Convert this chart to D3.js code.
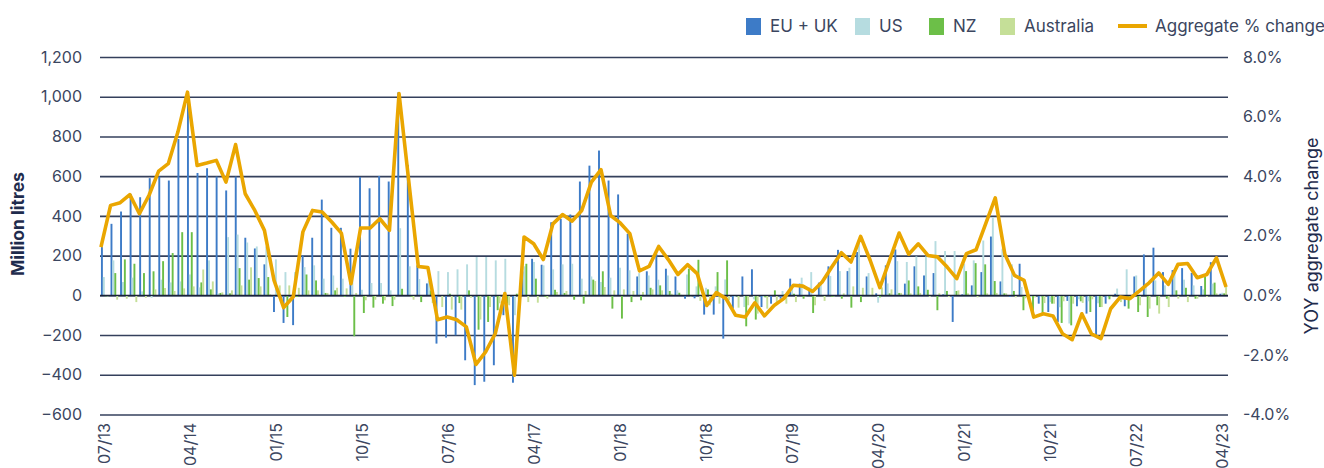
<!DOCTYPE html>
<html>
<head>
<meta charset="utf-8">
<script src="https://cdn.jsdelivr.net/npm/d3@7"></script>
<style>
  body { margin: 0; background: #fff; }
  text { font-family: Inter, "Noto Sans", sans-serif; }
</style>
</head>
<body>
<div id="visualization"></div>
<script>
// monthly categories 07/13 .. 04/23
var months = d3.timeMonth.range(new Date(2013, 6, 1), new Date(2023, 4, 1)).map(d3.timeFormat("%m/%y"));

var tickLabels = ["07/13", "04/14", "01/15", "10/15", "07/16", "04/17", "01/18",
  "10/18", "07/19", "04/20", "01/21", "10/21", "07/22", "04/23"];

var leftTicks = [-600, -400, -200, 0, 200, 400, 600, 800, 1000, 1200];
var rightTicks = [-4, -2, 0, 2, 4, 6, 8];

// million litres, yoy change
var euUk = [243, 360, 422, 511, 494, 590, 598, 578, 787, 971,
  616, 640, 598, 528, 598, 290, 236, 156, -84, -139,
  -150, 201, 290, 482, 340, 340, 235, 596, 539, 601,
  573, 1022, 657, 151, 60, -243, -213, -201, -327, -452,
  -435, -352, -100, -440, 120, 184, 154, 368, 385, 407,
  573, 653, 729, 578, 508, 310, 95, 121, 209, 134,
  95, -17, -15, -97, -97, -218, -67, 95, 131,
  -59, -42, -17, 84, 59, 38, 64, 146, 229, 122,
  218, 95, 10, 151, 231, 59, 146, 100, 112, 5,
  -134, 5, 50, 117, 296, 70, -8, 159, -34, -42,
  -84, -134, -28,
  -55, -92, -201, -42, 8, -55, 95, 206, 240, 117, 127, 137, 113, 47, 167, 8];

var us = [92, 176, 67, 89, 20, -12, 79, 65, 70, 105,
  40, 176, 10, 293, 306, 266, 246, 246, 181, 117,
  117, 142, 151, 84, 100, 84, 90, 28, 62, 62,
  25, 338, 146, 82, 75, 122, 117, 131, 156, 193,
  193, 176, 184, -100, 146, 168, 151, 131, 156, 159,
  84, 95, 67, 89, 139, 126, 112, 100, 79, 100,
  25, 105, 45, 38, 45, 80, -8, -59, -20,
  -8, 0, 22, 40, 89, 117, 60, 97, 122, 139,
  263, 112, -37, 60, 172, 168, 196, 196, 273, 223,
  223, 159, 176, 276, 394, 235, 156, 42, -8, -8,
  -34, -60, -142,
  -20, -30, -40, -10, 34, 131, 100, 60, 75, 50, 131, 79, 50, 30, 59, 13];

var nz = [-5, 112, 181, 159, 112, 121, 172, 213, 318, 318,
  65, 30, 12, 10, 137, 79, 87, 92, 10, -109,
  -8, 105, 75, 12, 25, -8, -206, -89, -62, -42,
  -54, 33, -8, -34, 25, 0, 8, -39, 25, -173,
  -134, -75, -42, 8, 159, 84, -8, 28, 12, -22,
  -42, 79, 121, -67, -117, -34, -25, 38, 50, 22,
  13, 134, 179, 30, 117, 176, -5, -156, -122,
  -10, 25, 5, 8, -17, -89, -5, -8, -17, -62,
  -34, -5, -10, 10, 12, 75, 45, 28, -75, 22,
  22, 122, 162, 156, 72, 10, 22, -75, -92, -89,
  -42, -139, -151,
  -30, -84, -59, -20, -10, -67, -84, -109, -50, -17, 25, 38, -17, 95, 64, 10];

var australia = [-5, -22, -17, -34, -12, 30, 37, 22, 35, 45,
  130, 70, 15, 25, 50, 141, 45, 5, 50, 50,
  38, 25, 25, 12, 38, 35, 12, -25, -22, -25,
  -22, 0, -22, 0, -39, -59, -72, -72, -12, -122,
  -59, -40, -50, -20, -34, -37, -17, 17, 22, 0,
  22, 72, 42, 25, 30, 22, 17, 30, 25, 8,
  3, -5, -28, -50, -42, -25, -62, -50, -92,
  -67, -34, -42, -34, -5, -50, -28, -5, 10, 45,
  38, 38, 40, 30, 12, 10, 12, -8, 10, -8,
  25, 10, -10, 10, 12, 10, -10, -15, -10, -39,
  -42, -30, -42,
  -38, -20, -59, -8, -34, -20, -50, -67, -92, -59, -17, -34, -17, -8, 10, 42];

// aggregate yoy % change
var aggregate = [1.62, 3.02, 3.11, 3.38, 2.74, 3.36, 4.17, 4.42, 5.48, 6.82,
  4.36, 4.44, 4.53, 3.80, 5.06, 3.41, 2.85, 2.18, 0.50, -0.41,
  -0.05, 2.13, 2.85, 2.80, 2.46, 2.09, 0.39, 2.26, 2.26, 2.57,
  2.18, 6.77, 3.86, 0.97, 0.93, -0.82, -0.73, -0.82, -1.06, -2.32,
  -1.90, -1.29, 0.06, -2.68, 1.96, 1.73, 1.20, 2.40, 2.71, 2.49,
  2.85, 3.80, 4.22, 2.68, 2.43, 2.07, 0.82, 0.97, 1.64, 1.20,
  0.70, 1.03, 0.73, -0.34, 0.09, -0.11, -0.67, -0.73, -0.25,
  -0.69, -0.34, -0.11, 0.34, 0.31, 0.13, 0.45, 0.95, 1.43, 1.12,
  1.98, 1.17, 0.26, 1.17, 2.09, 1.38, 1.73, 1.34, 1.29, 0.95,
  0.56, 1.40, 1.53, 2.40, 3.27, 1.38, 0.67, 0.50, -0.73, -0.62,
  -0.69, -1.29, -1.49,
  -0.62, -1.29, -1.45, -0.45, -0.06, -0.11, 0.15, 0.42, 0.75, 0.37, 1.04, 1.07, 0.59, 0.70, 1.26, 0.28];

var seriesNames = ["EU + UK", "US", "NZ", "Australia"];
var seriesValues = [euUk, us, nz, australia];
var colors = ["#3d7bc7", "#b6dce0", "#6cbf48", "#c5df98"];
var lineColor = "#eaa600";
var textColor = "#3b4660";
var navy = "#1f2c4d";

var width = 1324, height = 468;
var plotLeft = 100, plotRight = 1228, plotTop = 57, plotBottom = 414.5;

var svg = d3.select("#visualization")
  .append("svg")
  .attr("width", width)
  .attr("height", height);

var x = d3.scaleBand()
  .domain(months)
  .range([plotLeft, plotRight])
  .paddingInner(0.2)
  .paddingOuter(0.1);

var xSub = d3.scaleBand()
  .domain(seriesNames)
  .range([0, x.bandwidth()]);

// the line runs from the first group to the last bar of the final group
var xLine = d3.scalePoint()
  .domain(months)
  .range([x(months[0]), x(months[months.length - 1]) + x.bandwidth() - 1]);

var yLeft = d3.scaleLinear().domain([-600, 1200]).range([plotBottom, plotTop]);
var yRight = d3.scaleLinear().domain([-4, 8]).range([plotBottom, plotTop]);

// gridlines
svg.append("g")
  .attr("transform", "translate(" + plotLeft + ",0)")
  .call(d3.axisLeft(yLeft).tickValues(leftTicks).tickSize(-(plotRight - plotLeft)).tickFormat(""))
  .call(function (g) { g.select(".domain").remove(); })
  .selectAll("line")
  .attr("stroke", "#34405c")
  .attr("stroke-width", 1.6);

// bars
seriesValues.forEach(function (vals, s) {
  svg.append("g")
    .selectAll("rect")
    .data(vals)
    .enter()
    .append("rect")
    .attr("x", function (d, i) { return x(months[i]) + xSub(seriesNames[s]); })
    .attr("width", xSub.bandwidth())
    .attr("y", function (d) { return yLeft(Math.max(0, d)); })
    .attr("height", function (d) { return Math.abs(yLeft(d) - yLeft(0)); })
    .attr("fill", colors[s]);
});

// zero line
svg.append("line")
  .attr("x1", plotLeft).attr("x2", plotRight)
  .attr("y1", yLeft(0)).attr("y2", yLeft(0))
  .attr("stroke", "#1b2238")
  .attr("stroke-width", 1.3);

// aggregate line
var line = d3.line()
  .x(function (d, i) { return xLine(months[i]); })
  .y(function (d) { return yRight(d); });

svg.append("path")
  .datum(aggregate)
  .attr("d", line)
  .attr("fill", "none")
  .attr("stroke", lineColor)
  .attr("stroke-width", 3.6)
  .attr("stroke-linejoin", "round");

// left axis labels
svg.append("g")
  .attr("transform", "translate(" + plotLeft + ",0)")
  .call(d3.axisLeft(yLeft).tickValues(leftTicks).tickSize(0).tickPadding(18).tickFormat(d3.format(",")))
  .call(function (g) { g.select(".domain").remove(); })
  .selectAll("text")
  .attr("font-size", "16px")
  .attr("fill", textColor)
  .attr("font-family", "Inter, sans-serif");

// right axis labels
svg.append("g")
  .attr("transform", "translate(" + plotRight + ",0)")
  .call(d3.axisRight(yRight).tickValues(rightTicks).tickSize(0).tickPadding(15)
    .tickFormat(function (d) { return d.toFixed(1) + "%"; }))
  .call(function (g) { g.select(".domain").remove(); })
  .selectAll("text")
  .attr("font-size", "16px")
  .attr("fill", textColor)
  .attr("font-family", "Inter, sans-serif");

// x labels, every 9 months
svg.append("g")
  .selectAll("text")
  .data(tickLabels)
  .enter()
  .append("text")
  .attr("transform", function (d) {
    return "translate(" + (x(d) + x.bandwidth() / 2 + 5) + "," + 423 + ") rotate(-90)";
  })
  .attr("text-anchor", "end")
  .attr("font-size", "16px")
  .attr("fill", textColor)
  .text(function (d) { return d; });

// axis titles
svg.append("text")
  .attr("transform", "translate(24,224) rotate(-90)")
  .attr("text-anchor", "middle")
  .attr("font-size", "17.5px")
  .attr("font-weight", "bold")
  .attr("fill", navy)
  .text("Million litres");

svg.append("text")
  .attr("transform", "translate(1318,236) rotate(-90)")
  .attr("text-anchor", "middle")
  .attr("font-size", "18px")
  .attr("fill", navy)
  .text("YOY aggregate change");

// legend
var legendX = [746, 855, 929, 1000];
seriesNames.forEach(function (name, s) {
  svg.append("rect")
    .attr("x", legendX[s]).attr("y", 18)
    .attr("width", 15).attr("height", 17)
    .attr("fill", colors[s]);
  svg.append("text")
    .attr("x", legendX[s] + 24).attr("y", 32)
    .attr("font-size", "17px")
    .attr("fill", textColor)
    .text(name);
});
svg.append("line")
  .attr("x1", 1118).attr("x2", 1147)
  .attr("y1", 26).attr("y2", 26)
  .attr("stroke", lineColor)
  .attr("stroke-width", 4);
svg.append("text")
  .attr("x", 1155).attr("y", 32)
  .attr("font-size", "17px")
  .attr("fill", textColor)
  .text("Aggregate % change");
</script>
</body>
</html>
